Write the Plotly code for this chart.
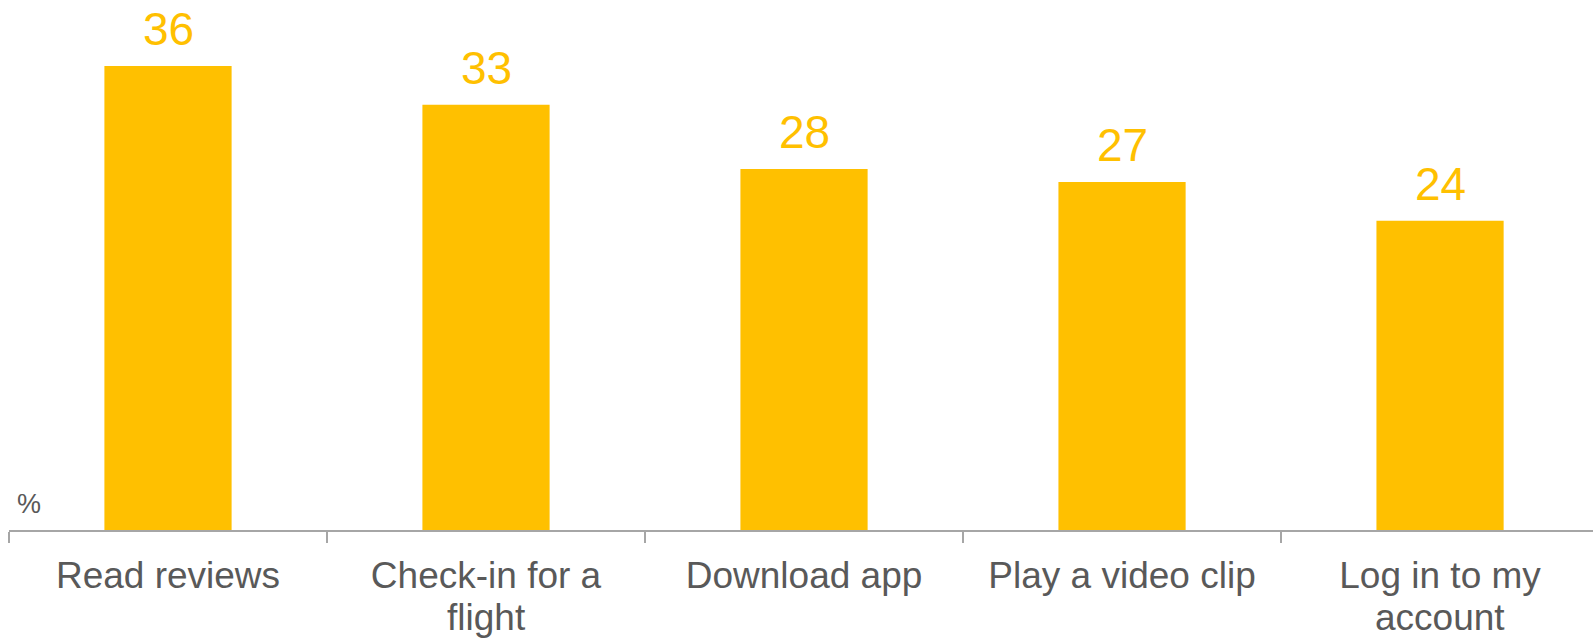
import plotly.graph_objects as go

categories = ["Read reviews", "Check-in for a flight", "Download app", "Play a video clip", "Log in to my account"]
label_line1 = ["Read reviews", "Check-in for a", "Download app", "Play a video clip", "Log in to my"]
label_line2 = ["", "flight", "", "", "account"]
values = [36, 33, 28, 27, 24]

BAR = "#FFC000"
GRAY = "#595959"
FONT = "Arial, Liberation Sans"

fig = go.Figure()
fig.add_trace(go.Bar(
    x=categories, y=values, width=0.4,
    marker=dict(color=BAR, line=dict(width=0)),
    hoverinfo="skip",
))

for c, v in zip(categories, values):
    fig.add_annotation(x=c, y=v, text=str(v), showarrow=False, yanchor="bottom",
                       yshift=9, font=dict(family=FONT, size=46, color=BAR))

# second lines of the wrapped category labels (tighter line spacing than <br>)
for c, t in zip(categories, label_line2):
    if t:
        fig.add_annotation(x=c, xref="x", y=0, yref="paper", text=t, showarrow=False,
                           yanchor="top", yshift=-65,
                           font=dict(family=FONT, size=37, color=GRAY))

fig.add_annotation(x=0.004, y=0.017, xref="paper", yref="paper", text="%", showarrow=False,
                   xanchor="left", yanchor="bottom",
                   font=dict(family=FONT, size=27, color=GRAY))

fig.update_layout(
    width=1593, height=638,
    margin=dict(l=9, r=0, t=0, b=108, autoexpand=False),
    plot_bgcolor="white", paper_bgcolor="white",
    showlegend=False,
    bargap=0.6,
    xaxis=dict(
        type="category", automargin=False,
        tickmode="array", tickvals=categories, ticktext=label_line1,
        range=[-0.5, 4.481], showgrid=False, zeroline=False,
        showline=True, linecolor="#A6A6A6", linewidth=2,
        ticks="outside", tickson="boundaries", ticklen=11, tickwidth=2, tickcolor="#A6A6A6",
        ticklabelstandoff=12,
        tickfont=dict(family=FONT, size=37, color=GRAY),
    ),
    yaxis=dict(range=[0, 41.12], visible=False, showgrid=False, zeroline=False),
)

fig.write_html("out.html")
